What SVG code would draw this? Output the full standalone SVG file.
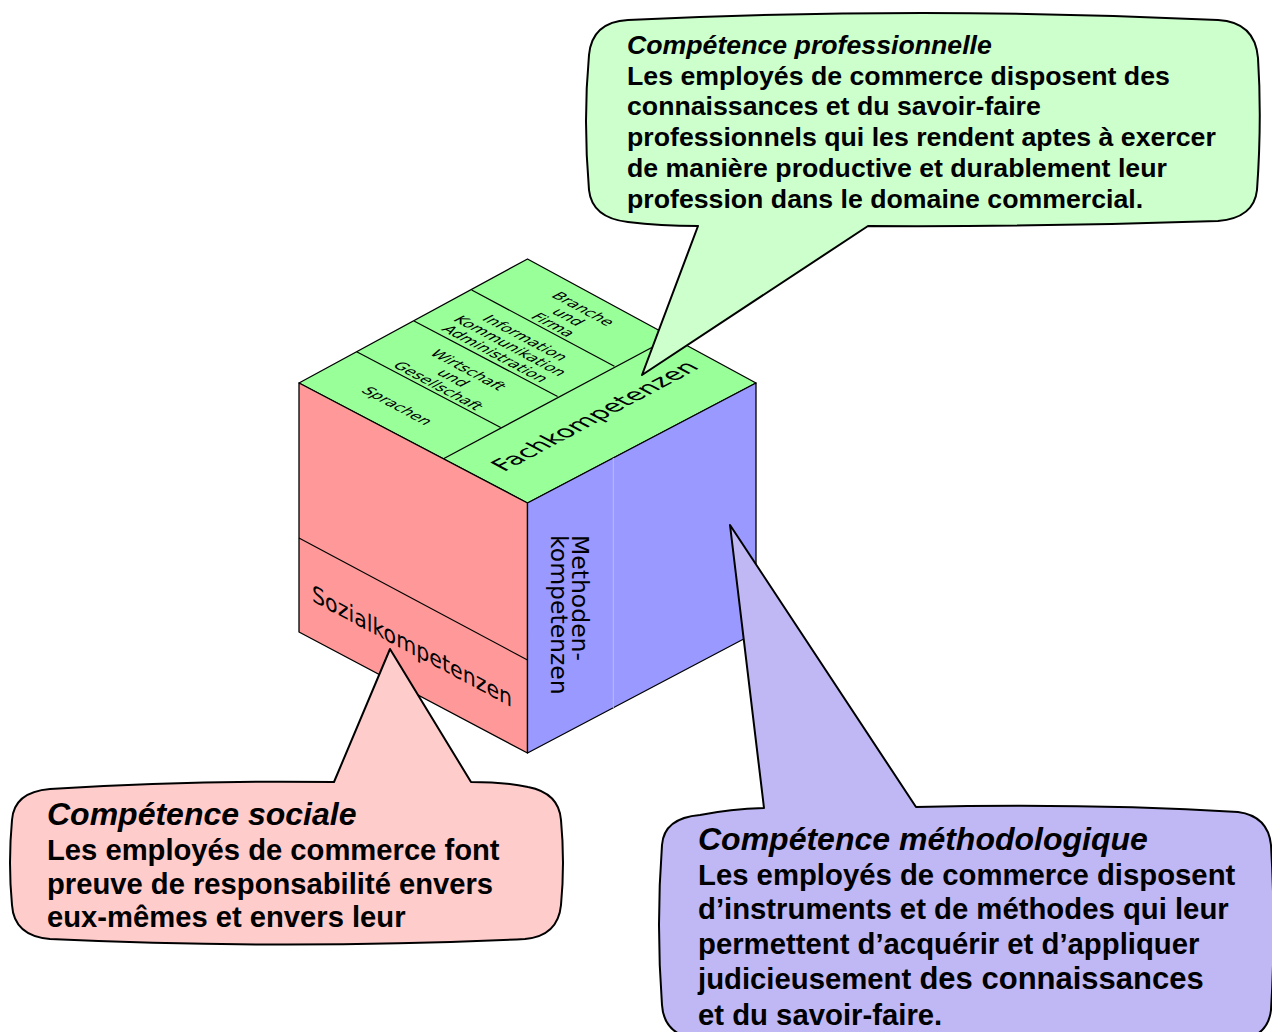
<svg xmlns="http://www.w3.org/2000/svg" width="1272" height="1032" viewBox="0 0 1272 1032">
<style>
.edge{stroke:#000;stroke-width:1.3;stroke-linejoin:round}
.cl{stroke:#000;stroke-width:1.2;fill:none}
.lab{font-family:"DejaVu Sans",sans-serif;fill:#000}
.sm{font-size:15.5px}
.big{font-size:23.3px}
.bub{stroke:#000;stroke-width:2;stroke-linejoin:round}
.ct{font-family:"Liberation Sans",Arial,sans-serif;font-weight:bold;fill:#000}
.ti{font-style:italic}
</style>
<rect width="1272" height="1032" fill="#fff"/>
<g id="cube">
  <g id="fachkompetenzen">
    <polygon class="edge" fill="#99ff99" points="527.5,259 756,383 527.5,503 299,383"/>
    <line class="cl" x1="443" y1="459" x2="671.5" y2="337"/>
    <line class="cl" x1="356.7" y1="351.7" x2="500.7" y2="427.5"/>
    <line class="cl" x1="414" y1="321" x2="557.6" y2="396.5"/>
    <line class="cl" x1="471.7" y1="290" x2="614.4" y2="366.2"/>
    <g class="lab sm" text-anchor="middle">
      <text transform="matrix(0.883 0.469 -0.883 0.469 397 406)" y="5">Sprachen</text>
      <g transform="matrix(0.883 0.469 -0.883 0.469 453 378)">
        <text y="-12">Wirtschaft</text><text y="5">und</text><text y="22">Gesellschaft</text>
      </g>
      <g transform="matrix(0.883 0.469 -0.883 0.469 510 346)">
        <text y="-12">Information</text><text y="5">Kommunikation</text><text y="22">Administration</text>
      </g>
      <g transform="matrix(0.883 0.469 -0.883 0.469 568 317)">
        <text y="-12">Branche</text><text y="5">und</text><text y="22">Firma</text>
      </g>
    </g>
    <text class="lab" font-size="24.5" transform="matrix(0.883 -0.469 0.883 0.469 504 472)">Fachkompetenzen</text>
  </g>
  <g id="sozialkompetenzen">
    <polygon class="edge" fill="#ff9999" points="299,383 527.5,503 527.5,753 299,632"/>
    <line class="cl" x1="299" y1="538" x2="527.5" y2="660"/>
    <text class="lab big" transform="matrix(0.883 0.469 0 1 312 601)">Sozialkompetenzen</text>
  </g>
  <g id="methodenkompetenzen">
    <polygon class="edge" fill="#9999ff" points="527.5,503 756,383 756,632.5 527.5,753"/>
    <line x1="613.3" y1="458" x2="613.3" y2="708" stroke="#b8b8ff" stroke-width="1"/>
    <g class="lab" font-size="23.5" transform="translate(572 535) rotate(90)">
      <text y="0">Methoden-</text><text y="21.5">kompetenzen</text>
    </g>
  </g>
</g>
<g id="connectors"></g>
<g id="callout-professionnelle">
  <path class="bub" fill="#ccffcc" d="M628,20 Q922,6 1218,20 Q1255,22 1258,58 Q1262,120 1257,190 Q1254,218 1218,221 Q1040,227 868,226 L642,375 L698,226 Q660,226 628,222 Q592,218 589,190 Q583,120 589,55 Q592,22 628,20 Z"/>
  <g class="ct" font-size="26.7">
    <text class="ti" x="627" y="54">Compétence professionnelle</text>
    <text x="627" y="84.7">Les employés de commerce disposent des</text>
    <text x="627" y="115.4">connaissances et du savoir-faire</text>
    <text x="627" y="146.1">professionnels qui les rendent aptes à exercer</text>
    <text x="627" y="176.8">de manière productive et durablement leur</text>
    <text x="627" y="207.5">profession dans le domaine commercial.</text>
  </g>
</g>
<g id="callout-sociale">
  <path class="bub" fill="#ffcccc" d="M50,789 Q190,780 334,782 L390,649 L471,782 Q505,782 528,787 Q559,793 561,820 Q565,863 561,905 Q558,936 525,939 Q287,950 50,939 Q14,936 12,905 Q8,863 12,820 Q14,792 50,789 Z"/>
  <g class="ct" font-size="29.2">
    <text class="ti" x="47" y="825" font-size="32">Compétence sociale</text>
    <text x="47" y="860">Les employés de commerce font</text>
    <text x="47" y="894">preuve de responsabilité envers</text>
    <text x="47" y="927">eux-mêmes et envers leur</text>
  </g>
</g>
<g id="callout-methodologique">
  <path class="bub" fill="#bfb8f5" d="M700,815 Q730,809 764,808 L730,525 L916,807 Q1090,803 1238,812 Q1268,816 1271,845 Q1276,930 1271,1010 Q1268,1036 1240,1040 Q960,1050 700,1040 Q664,1036 662,1005 Q656,925 662,845 Q664,818 700,815 Z"/>
  <g class="ct" font-size="29.3">
    <text class="ti" x="698" y="850" font-size="32">Compétence méthodologique</text>
    <text x="698" y="885">Les employés de commerce disposent</text>
    <text x="698" y="919">d’instruments et de méthodes qui leur</text>
    <text x="698" y="954">permettent d’acquérir et d’appliquer</text>
    <text x="698" y="989">judicieusement <tspan font-size="31">des connaissances</tspan></text>
    <text x="698" y="1025">et du savoir-faire.</text>
  </g>
</g>
</svg>
